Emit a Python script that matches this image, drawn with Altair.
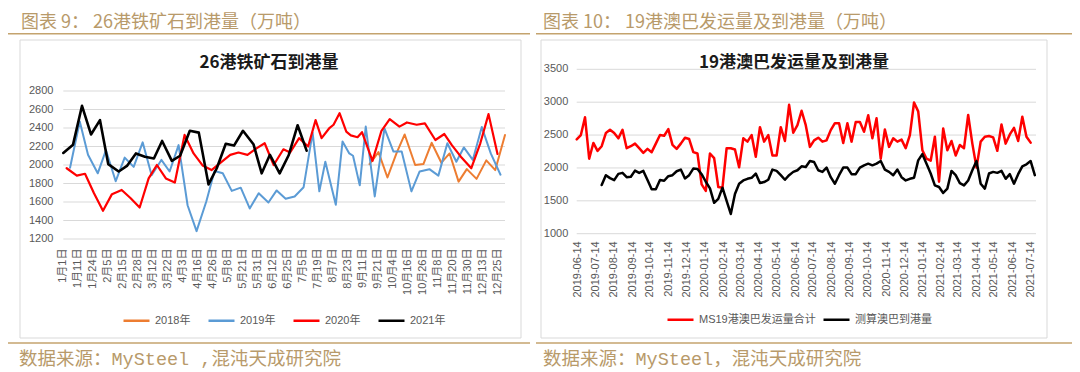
import altair as alt
import pandas as pd

# ---------------- Left chart: 26港铁矿石到港量 ----------------
A_CATS = ["1月1日", "1月11日", "1月24日", "2月5日", "2月15日", "2月28日", "3月12日", "3月22日",
          "4月3日", "4月16日", "4月26日", "5月8日", "5月21日", "5月31日", "6月12日", "6月25日",
          "7月5日", "7月19日", "8月7日", "8月23日", "9月11日", "9月21日", "10月4日", "10月16日",
          "10月26日", "11月8日", "11月20日", "11月30日", "12月13日", "12月25日"]
A_NAMES = ["2018年", "2019年", "2020年", "2021年"]
A_COLORS = ["#ED7D31", "#5B9BD5", "#FF0000", "#000000"]
A_WIDTHS = [2.0, 2.0, 2.2, 2.6]
A_YTICKS = [1200, 1400, 1600, 1800, 2000, 2200, 2400, 2600, 2800]

# category position (data units along the date-category axis) and value
A_X_2018 = [40.9, 42.1, 43.3, 44.5, 45.6, 47.0, 48.1, 49.2, 50.5, 51.6, 52.8, 53.9, 55.2, 56.5, 57.7, 59.0]
A_V_2018 = [2010, 2140, 1865, 2125, 2330, 2000, 2010, 2240, 2025, 2125, 1820, 1955, 1850, 2050, 1945, 2325]

A_X_2019 = [0.9, 2.2, 3.3, 4.6, 5.7, 7.0, 8.2, 9.4, 10.6, 11.8, 13.1, 14.2, 15.4, 16.6, 17.8, 19.1,
            20.2, 21.3, 22.5, 23.7, 24.9, 26.1, 27.4, 28.5, 29.7, 30.9, 32.1, 33.3, 34.2, 35.0, 36.4,
            37.3, 38.2, 38.7, 39.6, 40.4, 41.6, 42.9, 44.1, 45.2, 46.5, 47.6, 48.9, 50.1, 51.3, 52.5,
            53.5, 54.7, 55.9, 57.1, 58.4]
A_V_2019 = [1970, 2470, 2110, 1910, 2160, 1825, 2080, 1980, 2245, 1890, 2055, 1930, 2215, 1565, 1285, 1605,
            1935, 1910, 1720, 1755, 1530, 1695, 1595, 1725, 1635, 1660, 1760, 2350, 1715, 2035, 1570,
            2255, 2125, 2100, 1780, 2415, 1660, 2395, 2145, 2145, 1715, 1930, 1955, 1885, 2235, 2035,
            2190, 2055, 2410, 2125, 1895]

A_X_2020 = [0.45, 1.8, 2.9, 4.1, 5.3, 6.5, 7.8, 9.0, 10.2, 11.4, 12.5, 13.7, 14.9, 16.2, 17.4, 18.6,
            19.8, 21.1, 22.3, 23.4, 24.6, 25.8, 26.9, 28.1, 29.4, 30.3, 31.5, 32.7, 33.7, 34.5, 35.5,
            36.1, 36.9, 37.8, 38.4, 39.3, 39.9, 41.3, 42.5, 43.6, 44.9, 45.9, 47.2, 48.3, 49.7, 50.9,
            51.9, 53.1, 54.5, 55.7, 56.8, 58.0]
A_V_2020 = [1965, 1885, 1905, 1695, 1505, 1685, 1730, 1640, 1540, 1855, 2000, 1855, 1810, 2325, 2125, 1995,
            1945, 2030, 2110, 2135, 2110, 2180, 2235, 2000, 2170, 2135, 2290, 2200, 2485, 2290, 2395,
            2435, 2560, 2360, 2320, 2300, 2355, 2045, 2370, 2495, 2415, 2460, 2435, 2450, 2270, 2335,
            2215, 2090, 1965, 2235, 2550, 2120]

A_X_2021 = [0.0, 1.3, 2.5, 3.7, 4.9, 6.0, 7.4, 8.5, 9.7, 10.9, 12.1, 13.2, 14.5, 15.6, 16.9, 18.1,
            19.4, 20.5, 21.7, 22.8, 24.0, 25.4, 26.5, 27.6, 28.9, 30.1, 31.3, 32.5]
A_V_2021 = [2130, 2220, 2640, 2330, 2485, 2010, 1930, 1990, 2125, 2090, 2070, 2260, 2045, 2100, 2370, 2350,
            1790, 1965, 2230, 2210, 2370, 2225, 1910, 2110, 1910, 2105, 2430, 2155]

# ---------------- Right chart: 19港澳巴发运量及到港量 ----------------
B_LABELS = ["2019-06-14", "2019-07-14", "2019-08-14", "2019-09-14", "2019-10-14", "2019-11-14",
            "2019-12-14", "2020-01-14", "2020-02-14", "2020-03-14", "2020-04-14", "2020-05-14",
            "2020-06-14", "2020-07-14", "2020-08-14", "2020-09-14", "2020-10-14", "2020-11-14",
            "2020-12-14", "2021-01-14", "2021-02-14", "2021-03-14", "2021-04-14", "2021-05-14",
            "2021-06-14", "2021-07-14"]
B_NAMES = ["MS19港澳巴发运量合计", "测算澳巴到港量"]
B_COLORS = ["#FF0000", "#000000"]
B_YTICKS = [1000, 1500, 2000, 2500, 3000, 3500]

B_SHIP_START = "2019-06-12"     # weekly
B_SHIP = [2435, 2500, 2770, 2140, 2380, 2260, 2330, 2530, 2580, 2530,
          2450, 2580, 2300, 2330, 2370, 2300, 2230, 2290, 2240, 2370,
          2500, 2490, 2590, 2350, 2290, 2370, 2460, 2440, 2240, 2220,
          1750, 1650, 2220, 2150, 1710, 1700, 2300, 2300, 2280, 2010,
          2450, 2400, 2500, 2170, 2620, 2400, 2500, 2190, 2190, 2620,
          2410, 2960, 2535, 2650, 2870, 2650, 2320, 2420, 2460, 2400,
          2420, 2575, 2680, 2680, 2380, 2680, 2400, 2700, 2700, 2550,
          2800, 2450, 2755, 2140, 2585, 2320, 2450, 2400, 2430, 2300,
          2500, 2995, 2860, 2270, 2140, 2110, 2475, 1790, 2600, 2270,
          2410, 2190, 2350, 2300, 2805, 2370, 2005, 2400, 2475, 2485,
          2465, 2260, 2660, 2370, 2510, 2610, 2410, 2780, 2475, 2385]

B_ARRIVE_START = "2019-07-24"   # weekly
B_ARRIVE = [1740, 1890, 1845, 1815, 1910, 1925, 1860, 1865, 1960, 1925,
            1955, 1815, 1675, 1675, 1815, 1805, 1875, 1890, 1950, 1975,
            1840, 1890, 1990, 1985, 1905, 1790, 1690, 1470, 1530, 1700,
            1500, 1300, 1605, 1760, 1810, 1835, 1850, 1915, 1770, 1785,
            1820, 1975, 1955, 1890, 1820, 1890, 1940, 1965, 2025, 2015,
            2105, 2090, 1965, 1940, 2005, 1860, 1760, 1890, 2005, 2005,
            1905, 1905, 2005, 2040, 2065, 2040, 2065, 2105, 1975, 1940,
            1890, 1975, 1860, 1810, 1835, 1850, 2115, 2210, 2065, 1915,
            1735, 1710, 1620, 1685, 1955, 1890, 1770, 1735, 1810, 1965,
            2105, 1760, 1685, 1915, 1940, 1925, 1955, 1835, 1905, 1760,
            1905, 2025, 2055, 2105, 1890]

# ---------------- geometry / style ----------------
W, H = 1064, 364
AX0, AX1 = 55.3, 497.0
AY_TOP, AY_BOT = 83.0, 231.0
BX0, BX1 = 568.7, 1028.0
BY_TOP, BY_BOT = 61.3, 225.7

GOLD = "#b89a6a"
RULE = "#c4a36e"
GRID = "#d9d9d9"
LABEL = "#595959"
LAT = "Liberation Sans, Noto Sans CJK SC"
CJK = "Noto Sans CJK SC"
MONO = "Liberation Mono, Noto Sans CJK SC"

ONE = pd.DataFrame({"k": [0]})


def text_at(txt, x, y, size, color, font, weight="normal", align="left"):
    return alt.Chart(pd.DataFrame({"t": [txt]})).mark_text(
        align=align, baseline="middle", fontSize=size, color=color, font=font, fontWeight=weight
    ).encode(x=alt.value(x), y=alt.value(y), text="t:N")


def hrule(x0, x1, y, color, w):
    return alt.Chart(ONE).mark_rule(color=color, strokeWidth=w).encode(
        x=alt.value(x0), x2=alt.value(x1), y=alt.value(y))


def frame(x0, x1, y0, y1):
    return alt.Chart(ONE).mark_rect(fill="white", stroke="#d9d9d9", strokeWidth=1).encode(
        x=alt.value(x0), x2=alt.value(x1), y=alt.value(y0), y2=alt.value(y1))


decor = [
    frame(12, 513, 32, 330),
    frame(533, 1039, 32, 330),
    hrule(0, 522, 25.8, RULE, 1.6),
    hrule(528, 1064, 25.8, RULE, 1.6),
    hrule(0, 522, 335, RULE, 1.6),
    hrule(528, 1064, 335, RULE, 1.6),
    text_at("图表 9：  26港铁矿石到港量（万吨）", 13, 15.0, 18, GOLD, CJK),
    text_at("图表 10：  19港澳巴发运量及到港量（万吨）", 535, 15.0, 18, GOLD, CJK),
    text_at("数据来源：MySteel ,混沌天成研究院", 11, 351, 18.5, GOLD, MONO),
    text_at("数据来源：MySteel，混沌天成研究院", 535, 351, 18.5, GOLD, MONO),
    text_at("26港铁矿石到港量", 261, 55, 17, "#1a1a1a", CJK, "bold", "center"),
    text_at("19港澳巴发运量及到港量", 786, 55, 17, "#1a1a1a", CJK, "bold", "center"),
]

# ---------------- plot A ----------------
xA = alt.Scale(domain=[0, 59], range=[AX0, AX1], nice=False, zero=False)
yA = alt.Scale(domain=[1200, 2800], range=[AY_BOT, AY_TOP], nice=False, zero=False)
cA = alt.Scale(domain=A_NAMES, range=A_COLORS)
legA = alt.Legend(orient="none", legendX=114, legendY=298, direction="horizontal", columns=4,
                  symbolType="stroke", symbolSize=676, symbolStrokeWidth=2.5,
                  labelFontSize=11, labelColor=LABEL, labelFont=LAT, labelOffset=4,
                  columnPadding=12, padding=0)

gridA = alt.Chart(pd.DataFrame({"v": A_YTICKS})).mark_rule(color=GRID, strokeWidth=1).encode(
    y=alt.Y("v:Q", scale=yA, axis=None), x=alt.value(AX0), x2=alt.value(AX1))
ylabA = alt.Chart(pd.DataFrame({"v": A_YTICKS, "lab": [str(v) for v in A_YTICKS]})).mark_text(
    align="right", baseline="middle", fontSize=11, color=LABEL, font=LAT
).encode(y=alt.Y("v:Q", scale=yA, axis=None), x=alt.value(45.4), text="lab:N")
xlabA = alt.Chart(pd.DataFrame({"p": [2 * i for i in range(len(A_CATS))], "lab": A_CATS})).mark_text(
    align="right", baseline="middle", angle=270, fontSize=11, color=LABEL, font=LAT
).encode(x=alt.X("p:Q", scale=xA, axis=None), y=alt.value(240.5), text="lab:N")

seriesA = [(A_X_2018, A_V_2018), (A_X_2019, A_V_2019), (A_X_2020, A_V_2020), (A_X_2021, A_V_2021)]
linesA = []
for name, (xs, vs), w in zip(A_NAMES, seriesA, A_WIDTHS):
    df = pd.DataFrame({"x": xs, "v": vs, "s": name})
    linesA.append(
        alt.Chart(df).mark_line(strokeWidth=w, strokeJoin="round", strokeCap="round").encode(
            x=alt.X("x:Q", scale=xA, axis=None),
            y=alt.Y("v:Q", scale=yA, axis=None),
            color=alt.Color("s:N", scale=cA, legend=legA, title=None),
        )
    )
plotA = alt.layer(gridA, ylabA, xlabA, *linesA)

# ---------------- plot B ----------------
xB = alt.Scale(type="utc",
               domain=[alt.DateTime(year=2019, month=6, date=12, utc=True),
                       alt.DateTime(year=2021, month=7, date=23, utc=True)],
               range=[BX0, BX1], nice=False)
yB = alt.Scale(domain=[1000, 3500], range=[BY_BOT, BY_TOP], nice=False, zero=False)
cB = alt.Scale(domain=B_NAMES, range=B_COLORS)
legB = alt.Legend(orient="none", legendX=658, legendY=297, direction="horizontal", columns=2,
                  symbolType="stroke", symbolSize=676, symbolStrokeWidth=2.5,
                  labelFontSize=11, labelColor=LABEL, labelFont=LAT, labelOffset=4,
                  columnPadding=2, padding=0)

gridB = alt.Chart(pd.DataFrame({"v": B_YTICKS})).mark_rule(color=GRID, strokeWidth=1).encode(
    y=alt.Y("v:Q", scale=yB, axis=None), x=alt.value(BX0), x2=alt.value(BX1))
ylabB = alt.Chart(pd.DataFrame({"v": B_YTICKS, "lab": [str(v) for v in B_YTICKS]})).mark_text(
    align="right", baseline="middle", fontSize=11, color=LABEL, font=LAT
).encode(y=alt.Y("v:Q", scale=yB, axis=None), x=alt.value(560.3), text="lab:N")
xlabB = alt.Chart(pd.DataFrame({"d": B_LABELS, "lab": B_LABELS})).mark_text(
    align="right", baseline="middle", angle=270, fontSize=11, color=LABEL, font=LAT
).encode(x=alt.X("d:T", scale=xB, axis=None), y=alt.value(233.3), text="lab:N")

ship_dates = pd.date_range(B_SHIP_START, periods=len(B_SHIP), freq="7D").strftime("%Y-%m-%d")
arr_dates = pd.date_range(B_ARRIVE_START, periods=len(B_ARRIVE), freq="7D").strftime("%Y-%m-%d")
linesB = []
for name, dates, vals in [(B_NAMES[0], ship_dates, B_SHIP), (B_NAMES[1], arr_dates, B_ARRIVE)]:
    df = pd.DataFrame({"d": list(dates), "v": vals, "s": name})
    linesB.append(
        alt.Chart(df).mark_line(strokeWidth=2.5, strokeJoin="round", strokeCap="round").encode(
            x=alt.X("d:T", scale=xB, axis=None),
            y=alt.Y("v:Q", scale=yB, axis=None),
            color=alt.Color("s:N", scale=cB, legend=legB, title=None),
        )
    )
plotB = alt.layer(gridB, ylabB, xlabB, *linesB)

chart = alt.layer(*decor, plotA, plotB).resolve_scale(
    x="independent", y="independent", color="independent"
).properties(
    width=W, height=H, autosize=alt.AutoSizeParams(type="none"), padding=0
).configure_view(strokeWidth=0)

chart.save("out.html", embed_options={"renderer": "svg", "actions": False})
